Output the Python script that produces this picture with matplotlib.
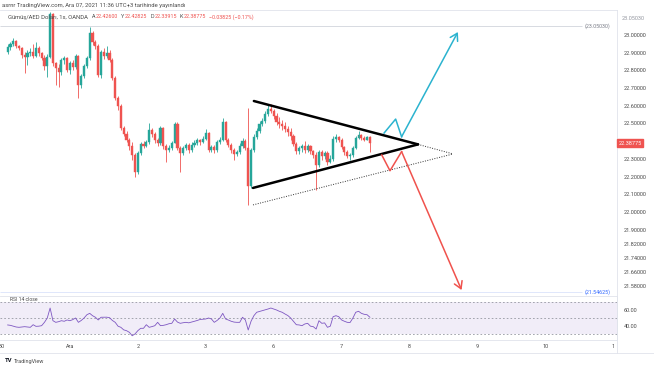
import numpy as np
import matplotlib
matplotlib.use("Agg")
import matplotlib.pyplot as plt

plt.rcParams["font.family"] = ["Roboto", "DejaVu Sans"]

# hourly candles, XAG/AED (index 0 = 30 Nov 00:00)
first_open = 22.904
closes = [22.932, 22.949, 22.966, 22.938, 22.927, 22.887, 22.876, 22.898, 22.904, 22.881,
          22.927, 22.898, 22.870, 22.825, 22.876, 23.119, 22.842, 22.814, 22.791, 22.859,
          22.870, 22.802, 22.842, 22.819, 22.881, 22.718, 22.768, 22.825, 22.870, 23.011,
          22.960, 22.938, 22.774, 22.904, 22.881, 22.898, 22.859, 22.757, 22.644, 22.599,
          22.475, 22.441, 22.407, 22.373, 22.322, 22.226, 22.333, 22.384, 22.373, 22.395,
          22.463, 22.441, 22.407, 22.390, 22.475, 22.373, 22.350, 22.362, 22.390, 22.497,
          22.362, 22.333, 22.362, 22.379, 22.350, 22.379, 22.390, 22.407, 22.395, 22.412,
          22.446, 22.350, 22.367, 22.350, 22.395, 22.407, 22.508, 22.407, 22.379, 22.350,
          22.328, 22.339, 22.373, 22.401, 22.362, 22.147, 22.350, 22.424, 22.458, 22.497,
          22.514, 22.554, 22.582, 22.571, 22.542, 22.508, 22.497, 22.486, 22.469, 22.452,
          22.429, 22.384, 22.345, 22.362, 22.373, 22.350, 22.373, 22.345, 22.322, 22.266,
          22.339, 22.316, 22.333, 22.282, 22.299, 22.412, 22.424, 22.407, 22.367, 22.339,
          22.316, 22.322, 22.362, 22.418, 22.435, 22.418, 22.407, 22.426, 22.38775]
highs = [22.949, 22.960, 22.983, 22.972, 22.944, 22.932, 22.904, 22.915, 22.927, 22.949,
         22.960, 22.938, 22.904, 22.887, 22.893, 23.130, 23.122, 22.847, 22.836, 22.870,
         22.881, 22.876, 22.853, 22.859, 22.893, 22.887, 22.780, 22.836, 22.881, 23.045,
         23.023, 22.972, 22.949, 22.915, 22.927, 22.938, 22.915, 22.870, 22.768, 22.655,
         22.610, 22.486, 22.458, 22.418, 22.395, 22.333, 22.345, 22.395, 22.401, 22.407,
         22.503, 22.475, 22.452, 22.418, 22.486, 22.480, 22.384, 22.379, 22.401, 22.508,
         22.508, 22.373, 22.373, 22.390, 22.390, 22.395, 22.407, 22.418, 22.412, 22.429,
         22.469, 22.452, 22.379, 22.379, 22.407, 22.424, 22.531, 22.514, 22.418, 22.390,
         22.362, 22.350, 22.390, 22.418, 22.412, 22.588, 22.362, 22.441, 22.475, 22.514,
         22.531, 22.571, 22.605, 22.610, 22.582, 22.559, 22.537, 22.520, 22.508, 22.486,
         22.475, 22.441, 22.395, 22.373, 22.384, 22.401, 22.384, 22.379, 22.350, 22.339,
         22.350, 22.350, 22.345, 22.345, 22.322, 22.429, 22.441, 22.429, 22.418, 22.373,
         22.350, 22.333, 22.373, 22.429, 22.458, 22.441, 22.429, 22.430, 22.42825]
lows = [22.893, 22.915, 22.938, 22.927, 22.915, 22.870, 22.785, 22.831, 22.881, 22.870,
        22.876, 22.881, 22.859, 22.802, 22.763, 22.870, 22.825, 22.718, 22.706, 22.774,
        22.836, 22.791, 22.780, 22.802, 22.808, 22.644, 22.701, 22.757, 22.814, 22.859,
        22.944, 22.921, 22.763, 22.757, 22.864, 22.870, 22.847, 22.746, 22.633, 22.576,
        22.463, 22.429, 22.395, 22.350, 22.294, 22.198, 22.215, 22.322, 22.362, 22.367,
        22.384, 22.424, 22.390, 22.373, 22.379, 22.356, 22.282, 22.339, 22.350, 22.390,
        22.350, 22.226, 22.322, 22.350, 22.333, 22.339, 22.367, 22.379, 22.379, 22.390,
        22.407, 22.339, 22.339, 22.333, 22.339, 22.384, 22.401, 22.395, 22.367, 22.333,
        22.294, 22.316, 22.328, 22.362, 22.350, 22.040, 22.136, 22.339, 22.412, 22.446,
        22.486, 22.503, 22.542, 22.559, 22.525, 22.492, 22.475, 22.463, 22.452, 22.429,
        22.407, 22.373, 22.328, 22.328, 22.339, 22.333, 22.339, 22.328, 22.305, 22.124,
        22.254, 22.294, 22.299, 22.266, 22.277, 22.288, 22.395, 22.395, 22.356, 22.322,
        22.305, 22.294, 22.311, 22.356, 22.412, 22.407, 22.401, 22.404, 22.33915]
rsi = [41.5, 41, 40, 39, 38.6, 39, 39.4, 39, 38.6, 41.8, 39.8, 40, 40.6, 44.7, 50,
       62.2, 46.7, 44.7, 45.5, 46.7, 46, 47.6, 46.7, 48, 50, 44.7, 47, 50, 54, 55.7,
       52.8, 50.9, 47.6, 50.9, 50.9, 51, 50.4, 47, 44.7, 40, 38.6, 35.5, 34.5, 32.5, 28.3,
       30.5, 34.5, 37.4, 37.4, 41.8, 38.6, 39.5, 40.6, 44.7, 40.6, 41, 41.8, 43, 43.5, 48.8,
       45, 43.5, 44.2, 44.7, 44.1, 45, 46, 47, 48.2, 48.5, 48.8, 50, 48.8, 44.7, 47,
       50, 55.7, 48.8, 47.5, 46, 45, 44.7, 44.7, 50.9, 47.6, 35.3, 46, 52.8, 57, 58,
       58.9, 60, 61, 62.2, 61, 59.8, 58.2, 57, 54.9, 53, 50, 46, 41.8, 41.5, 40.6,
       42.7, 43.5, 40, 39.4, 36.5, 46.7, 43.5, 44, 38.6, 40, 51.6, 52.8, 51.6, 47.6, 46,
       44.7, 44.5, 50, 57, 58.2, 55.7, 54.5, 54, 50.9]

day_ticks = [0, 24, 48, 72, 96, 120, 144, 168, 192, 216]
day_labels = ["30", "Ara", "2", "3", "6", "7", "8", "9", "10", "1"]
price_ticks = [23.0, 22.9, 22.8, 22.7, 22.6, 22.5, 22.3, 22.2, 22.1, 22.0,
               21.9, 21.82, 21.74, 21.66, 21.58]

# legend pieces: (letter, value)
ohlc_header = [("A", "22.42600"), ("Y", "22.42825"), ("D", "22.33915"), ("K", "22.38775")]
change_text = "\u22120.03825 (\u22120.17%)"

# drawings on the chart (bar index, price)
tri_upper = [(89.0, 22.627), (147.0, 22.382)]
tri_lower = [(88.7, 22.136), (147.0, 22.382)]
dot_lower = [(88.7, 22.040), (159.4, 22.328)]
dot_apex = [(147.0, 22.382), (159.4, 22.328)]
teal_path = [(135.0, 22.446), (139.1, 22.525), (141.2, 22.425), (161.1, 23.017)]
red_path = [(134.2, 22.322), (137.1, 22.233), (141.2, 22.341), (162.4, 21.559)]
hl_high = 23.0503
hl_low = 21.54625

UP = "#26a69a"
DN = "#ef5350"
GRID = "#e0e3eb"
TXT = "#4a4a4a"

assert len(closes) == len(highs) == len(lows) == len(rsi)
x = np.arange(2, 2 + len(closes))
opens = [first_open] + closes[:-1]

W, H = 654, 366
fig = plt.figure(figsize=(W / 100, H / 100), dpi=100)
fig.patch.set_facecolor("white")

ax = fig.add_axes([0, (H - 296) / H, 617 / W, 286 / H])
ax2 = fig.add_axes([0, (H - 340) / H, 617 / W, 44 / H])

xlim = (-2 / 2.83, 615 / 2.83)
ax.set_xlim(*xlim)
ax.set_ylim(21.5254, 23.1412)

for i in range(len(x)):
    o, c = opens[i], closes[i]
    col = UP if c >= o else DN
    hi = max(highs[i], o, c)
    lo = min(lows[i], o, c)
    ax.vlines(x[i], lo, hi, color=col, lw=0.6, zorder=2)
    ax.bar(x[i], c - o, bottom=o, width=0.75, color=col, edgecolor=col, lw=0.3, zorder=3)

# high / low lines of visible range
ax.hlines(hl_high, xlim[0], 205, color="#d1d4dc", lw=0.6, zorder=1)
ax.hlines(hl_low, xlim[0], 205, color="#dbe3fb", lw=0.6, zorder=1)
ax.text(206, hl_high, "(23.05030)", fontsize=3.8, color="#787b86", va="center")
ax.text(206, hl_low, "(21.54625)", fontsize=3.8, color="#2962ff", va="center")

# triangle
ax.plot(*zip(*tri_upper), color="black", lw=1.8, solid_capstyle="round", zorder=5)
ax.plot(*zip(*tri_lower), color="black", lw=1.8, solid_capstyle="round", zorder=5)
ax.plot(*zip(*dot_lower), color="#333333", lw=0.7, ls=(0, (1, 1.5)), zorder=4)
ax.plot(*zip(*dot_apex), color="#333333", lw=0.7, ls=(0, (1, 1.5)), zorder=4)

# scenario arrows
for path, col in [(teal_path, "#2bb3cf"), (red_path, "#f0524d")]:
    xs, ys = zip(*path)
    ax.plot(xs[:-1], ys[:-1], color=col, lw=1.1, zorder=5)
    ax.annotate("", xy=path[-1], xytext=path[-2],
                arrowprops=dict(arrowstyle="->,head_length=0.5,head_width=0.3",
                                color=col, lw=1.1, shrinkA=0, shrinkB=0), zorder=5)

ax.yaxis.tick_right()
ax.set_yticks(price_ticks)
ax.set_yticklabels(["%.5f" % v for v in price_ticks])
ax.tick_params(axis="y", length=0, pad=5, labelsize=4, labelcolor=TXT)
ax.set_xticks([])
for s in ax.spines.values():
    s.set_color(GRID)
    s.set_linewidth(0.6)
ax.spines["left"].set_visible(False)

# last price tag
ax.text(1.003, closes[-1], "22.38775", transform=ax.get_yaxis_transform(),
        fontsize=4, color="white", va="center", ha="left",
        bbox=dict(boxstyle="square,pad=0.25", fc=DN, ec=DN))
ax.text(1.008, 23.0503 + 0.045, "23.05030", transform=ax.get_yaxis_transform(),
        fontsize=4, color="#9598a1", va="center", ha="left")

# RSI pane
ax2.set_xlim(*xlim)
ax2.set_ylim(23.1, 76.9)
ax2.axhspan(30, 70, color="#7e57c2", alpha=0.1, lw=0)
for lvl in (70, 50, 30):
    ax2.axhline(lvl, color="#9598a1", lw=0.6, ls=(0, (2, 2.5)))
ax2.plot(x, rsi, color="#7e57c2", lw=0.6)
ax2.text(3, 72.5, "RSI 14 close", fontsize=3.6, color=TXT, va="center")
ax2.yaxis.tick_right()
ax2.set_yticks([60, 40])
ax2.set_yticklabels(["60.00", "40.00"])
ax2.tick_params(axis="y", length=0, pad=5, labelsize=4, labelcolor=TXT)
ax2.set_xticks(day_ticks)
ax2.set_xticklabels(day_labels)
ax2.tick_params(axis="x", length=0, pad=3, labelsize=4, labelcolor=TXT)
for s in ax2.spines.values():
    s.set_color(GRID)
    s.set_linewidth(0.6)
ax2.spines["left"].set_visible(False)

# frame lines around time scale
fig.add_artist(plt.Line2D([0, 1], [(H - 353) / H] * 2, color=GRID, lw=0.6))
fig.add_artist(plt.Line2D([617 / W] * 2, [(H - 353) / H, (H - 296) / H], color=GRID, lw=0.6))

# header texts
fig.text(2 / W, 1 - 5 / H, "asrnr TradingView.com, Ara 07, 2021 11:36 UTC+3 tarihinde yay\u0131nland\u0131",
         fontsize=4.2, color=TXT, va="center")
fig.text(8 / W, 1 - 17 / H, "G\u00fcm\u00fc\u015f/AED Dolar\u0131, 1s, OANDA", fontsize=4.2,
         color=TXT, va="center")

renderer = fig.canvas.get_renderer()
px = 92
pieces = []
for letter, val in ohlc_header:
    pieces.append((letter, TXT, 0.5))
    pieces.append((val, DN, 3))
pieces.append((change_text, DN, 0))
for t, col, gap in pieces:
    txt = fig.text(px / W, 1 - 17 / H, t, fontsize=3.9, color=col, va="center")
    px += txt.get_window_extent(renderer).width + gap

fig.text(5 / W, 1 - 361 / H, "TV", fontsize=4.3, color="#131722", weight="bold", va="center")
fig.text(14 / W, 1 - 361 / H, "TradingView", fontsize=4, color=TXT, va="center")

fig.savefig("out.png", dpi=100)
